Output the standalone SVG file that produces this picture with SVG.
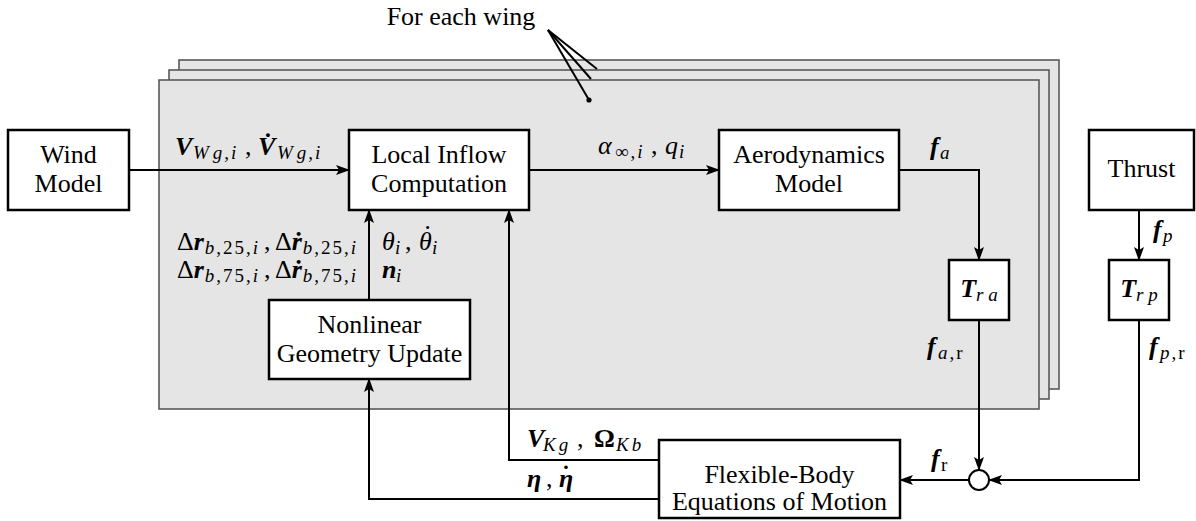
<svg xmlns="http://www.w3.org/2000/svg" width="1196" height="521" viewBox="0 0 1196 521" font-family="'Liberation Serif', 'Times New Roman', serif" font-size="26">
<defs>
<style>
.panel{fill:#e5e5e5;stroke:#595959;stroke-width:1.6}
.box{fill:#fff;stroke:#000;stroke-width:2.5}
.c{fill:none;stroke:#000;stroke-width:2}
.ctr{text-anchor:middle}
.i{font-style:italic}
.bi{font-style:italic;font-weight:bold}
.b{font-weight:bold}
.s{font-size:19px;font-style:italic}
.n{font-size:19px;font-style:normal}
.ls{letter-spacing:2px}
</style>
<marker id="ah" markerWidth="14" markerHeight="10" refX="13" refY="5" orient="auto" markerUnits="userSpaceOnUse">
<path d="M0,0 L14,5 L0,10 L3,5 z" fill="#000"/>
</marker>
</defs>
<rect width="1196" height="521" fill="#fff"/>
<g id="panels">
<rect class="panel" x="179" y="60" width="880" height="329"/>
<rect class="panel" x="169" y="70" width="880" height="329"/>
<rect class="panel" x="159" y="80" width="880" height="329"/>
</g>
<g id="annotation">
<text x="461" y="25" class="ctr">For each wing</text>
<g stroke="#000" stroke-width="2" fill="none">
<line x1="548" y1="30" x2="597" y2="69"/>
<line x1="548" y1="30" x2="591" y2="79"/>
<line x1="548" y1="30" x2="589" y2="100"/>
</g>
<circle cx="589" cy="100" r="2.6" fill="#000"/>
</g>
<g id="connectors">
<path class="c" d="M129,170 H349" marker-end="url(#ah)"/>
<path class="c" d="M529,170 H719" marker-end="url(#ah)"/>
<path class="c" d="M899,170 H979 V260" marker-end="url(#ah)"/>
<path class="c" d="M1139,210 V260" marker-end="url(#ah)"/>
<path class="c" d="M979,320 V470" marker-end="url(#ah)"/>
<path class="c" d="M1139,320 V480 H989" marker-end="url(#ah)"/>
<path class="c" d="M969,480 H900" marker-end="url(#ah)"/>
<path class="c" d="M659,460 H509 V210" marker-end="url(#ah)"/>
<path class="c" d="M659,499 H369 V379" marker-end="url(#ah)"/>
<path class="c" d="M369,300 V210" marker-end="url(#ah)"/>
</g>
<g id="wind">
<rect class="box" x="8" y="130" width="121" height="80"/>
<text x="68.5" y="163" class="ctr">Wind</text>
<text x="68.5" y="192" class="ctr">Model</text>
</g>
<g id="inflow">
<rect class="box" x="349" y="130" width="180" height="80"/>
<text x="439" y="163" class="ctr">Local Inflow</text>
<text x="439" y="192" class="ctr">Computation</text>
</g>
<g id="aero">
<rect class="box" x="719" y="130" width="180" height="80"/>
<text x="809" y="163" class="ctr">Aerodynamics</text>
<text x="809" y="192" class="ctr">Model</text>
</g>
<g id="thrust">
<rect class="box" x="1089" y="130" width="105" height="80"/>
<text x="1141.5" y="177" class="ctr">Thrust</text>
</g>
<g id="tra">
<rect class="box" x="949" y="260" width="60" height="60"/>
<text x="979" y="297" class="ctr"><tspan class="bi">T</tspan><tspan class="s" dy="4">r a</tspan></text>
</g>
<g id="trp">
<rect class="box" x="1109" y="260" width="60" height="60"/>
<text x="1139" y="297" class="ctr"><tspan class="bi">T</tspan><tspan class="s" dy="4">r p</tspan></text>
</g>
<g id="nonlinear">
<rect class="box" x="269" y="300" width="201" height="79"/>
<text x="369.5" y="333" class="ctr">Nonlinear</text>
<text x="369.5" y="362" class="ctr">Geometry Update</text>
</g>
<g id="flexible">
<rect class="box" x="659" y="440" width="241" height="78"/>
<text x="779.5" y="483" class="ctr">Flexible-Body</text>
<text x="779.5" y="510" class="ctr">Equations of Motion</text>
</g>
<g id="junction">
<circle cx="979" cy="480" r="10" fill="#fff" stroke="#000" stroke-width="2"/>
</g>
<g id="labels">
<text y="155"><tspan x="175" class="bi">V</tspan><tspan x="193" class="s" dy="4">W</tspan><tspan class="s ls" dx="4">g,i</tspan><tspan x="245" dy="-4">,</tspan><tspan x="258" class="bi">V̇</tspan><tspan x="277" class="s" dy="4">W</tspan><tspan class="s ls" dx="4">g,i</tspan></text>
<text y="154"><tspan x="598" class="i">α</tspan><tspan x="615" dy="4" class="n ls">∞,</tspan><tspan class="s">i</tspan><tspan x="651" dy="-4">,</tspan><tspan x="665" class="i">q</tspan><tspan x="679" class="s" dy="4">i</tspan></text>
<text y="155"><tspan x="930" class="bi">f</tspan><tspan x="940" class="s" dy="4">a</tspan></text>
<text y="238"><tspan x="1153" class="bi">f</tspan><tspan x="1163" class="s" dy="4">p</tspan></text>
<text y="355"><tspan x="927" class="bi">f</tspan><tspan x="938" class="s ls" dy="4">a</tspan><tspan class="n ls">,r</tspan></text>
<text y="355"><tspan x="1149" class="bi">f</tspan><tspan x="1160" class="s ls" dy="4">p</tspan><tspan class="n ls">,r</tspan></text>
<text y="467"><tspan x="931" class="bi">f</tspan><tspan x="941" class="n" dy="4">r</tspan></text>
<text y="250"><tspan x="177">Δ</tspan><tspan class="bi">r</tspan><tspan class="s ls" dy="4" dx="1">b</tspan><tspan class="n ls">,25,</tspan><tspan class="s">i</tspan><tspan x="264" dy="-4">,</tspan><tspan x="275">Δ</tspan><tspan class="bi">ṙ</tspan><tspan class="s ls" dy="4" dx="1">b</tspan><tspan class="n ls">,25,</tspan><tspan class="s">i</tspan></text>
<text y="278"><tspan x="177">Δ</tspan><tspan class="bi">r</tspan><tspan class="s ls" dy="4" dx="1">b</tspan><tspan class="n ls">,75,</tspan><tspan class="s">i</tspan><tspan x="264" dy="-4">,</tspan><tspan x="275">Δ</tspan><tspan class="bi">ṙ</tspan><tspan class="s ls" dy="4" dx="1">b</tspan><tspan class="n ls">,75,</tspan><tspan class="s">i</tspan></text>
<text y="250"><tspan x="382" class="i">θ</tspan><tspan x="395" class="s" dy="4">i</tspan><tspan x="405" dy="-4">,</tspan><tspan x="419" class="i">θ</tspan><tspan x="432" class="s" dy="4">i</tspan></text>
<text x="425" y="229" class="i">.</text>
<text y="278"><tspan x="382" class="bi">n</tspan><tspan x="396" class="s" dy="4">i</tspan></text>
<text y="447"><tspan x="527" class="bi">V</tspan><tspan x="543" class="s" dy="4">K</tspan><tspan class="s" dx="3">g</tspan><tspan x="577" dy="-4">,</tspan><tspan x="594" class="b">Ω</tspan><tspan x="616" class="s" dy="4">K</tspan><tspan class="s" dx="3">b</tspan></text>
<text y="487"><tspan x="527" class="bi">η</tspan><tspan x="546">,</tspan><tspan x="559" class="bi">η</tspan></text>
<text x="564" y="469" font-size="22" class="bi">.</text>
</g>
</svg>
